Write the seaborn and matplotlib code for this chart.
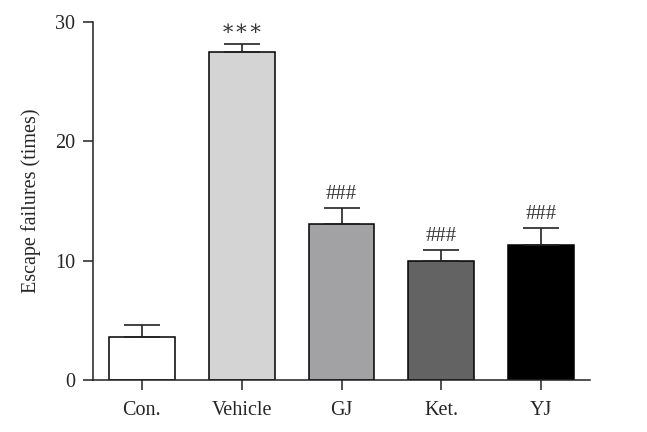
import matplotlib
matplotlib.use("Agg")
import matplotlib.pyplot as plt
import seaborn as sns
import pandas as pd

categories = ["Con.", "Vehicle", "GJ", "Ket.", "YJ"]
means = [3.6, 27.5, 13.1, 10.0, 11.35]
errors = [1.05, 0.7, 1.3, 0.9, 1.4]
annotations = ["", "∗∗∗", "###", "###", "###"]
colors = ["#ffffff", "#d4d4d4", "#a2a1a6", "#636363", "#000000"]

sns.set_theme(style="ticks")
plt.rcParams["font.family"] = ["Liberation Serif", "DejaVu Serif"]

df = pd.DataFrame({"group": categories, "value": means})

fig = plt.figure(figsize=(6.47, 4.32), dpi=100)
ax = fig.add_axes([0.1437, 0.1204, 0.912 - 0.1437, 0.949 - 0.1204])

sns.barplot(data=df, x="group", y="value", hue="group", palette=colors,
            order=categories, hue_order=categories, width=0.66,
            edgecolor="black", linewidth=1.1, legend=False, ax=ax, errorbar=None)

xs = list(range(len(categories)))
ax.errorbar(xs, means, yerr=[[0] * len(errors), errors], fmt="none",
            ecolor="#222222", elinewidth=1.2, capsize=13, capthick=1.2, zorder=1)

for x, m, e, a in zip(xs, means, errors, annotations):
    if a:
        ax.text(x, m + e + 0.35, a, ha="center", va="bottom", fontsize=15,
                color="#333333", family=["DejaVu Serif"] if a.startswith("∗") else None)

ax.set_ylim(0, 30)
ax.set_xlim(-0.49, 4.49)
ax.set_yticks([0, 10, 20, 30])
ax.set_xlabel("")
ax.set_ylabel("Escape failures (times)", fontsize=14.5, labelpad=10)
ax.tick_params(axis="both", labelsize=14.5, length=7, width=1.1, color="#222222")
ax.tick_params(axis="x", pad=8)
ax.tick_params(axis="y", pad=6)
sns.despine(ax=ax)
for s in ["left", "bottom"]:
    ax.spines[s].set_linewidth(1.1)
    ax.spines[s].set_color("#222222")

fig.savefig("out.png", dpi=100)
